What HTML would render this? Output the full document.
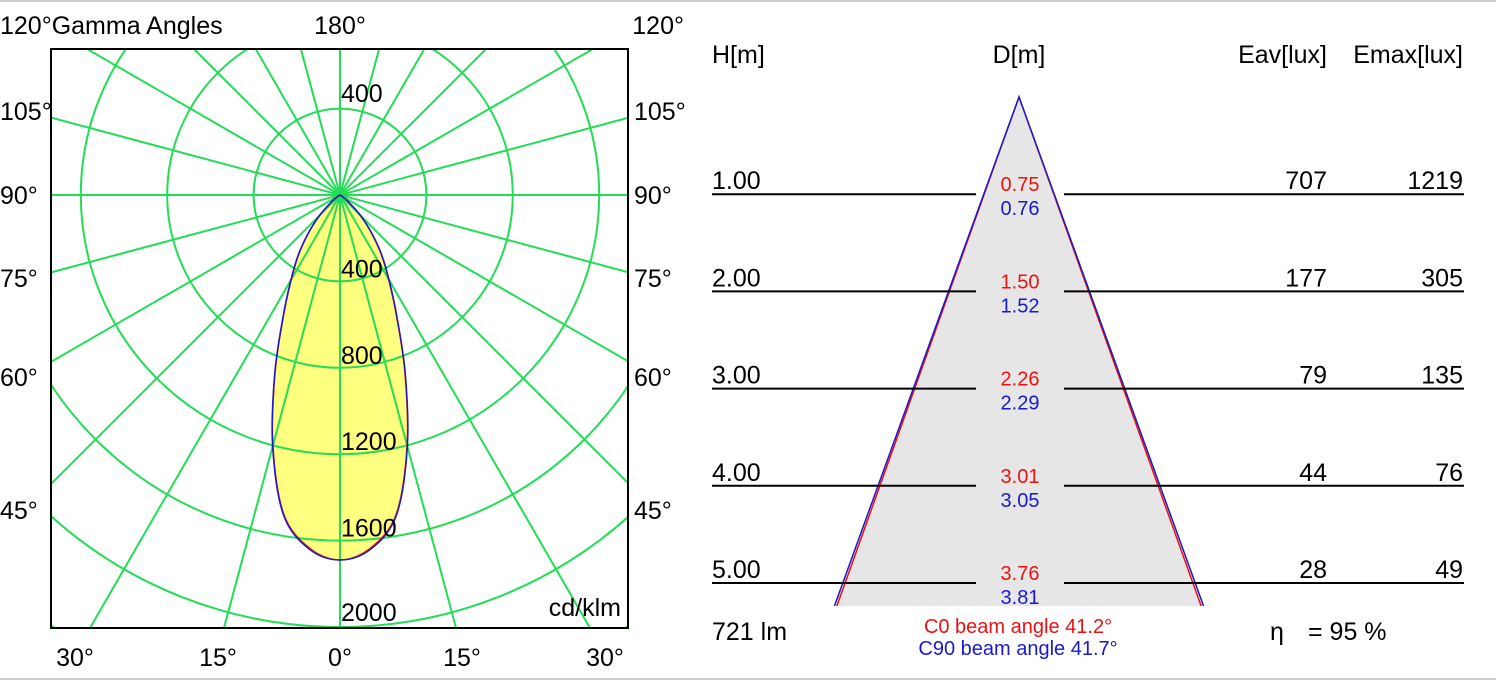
<!DOCTYPE html>
<html><head><meta charset="utf-8"><style>
html,body{margin:0;padding:0;background:#fff;overflow:hidden;width:1496px;height:680px;}
svg{display:block;font-family:"Liberation Sans",sans-serif;}
</style></head><body>
<svg width="1496" height="680" viewBox="0 0 1496 680" xmlns="http://www.w3.org/2000/svg">
<line x1="0" y1="1" x2="1496" y2="1" stroke="#ccc" stroke-width="2"/>
<line x1="0" y1="679" x2="1496" y2="679" stroke="#ccc" stroke-width="2"/>
<g id="polar"></g>
<g id="cone"></g>
</svg>
<script>
const gammaAngles=[0,5,10,15,20,25,30,35,40,45,50,55,60];
const intensityC0=[1690,1640,1500,1200,880,620,450,330,220,130,60,20,0];
const intensityC90=[1690,1645,1505,1205,885,625,455,335,225,135,62,22,0];
const ringValues=[400,800,1200,1600,2000];
const heights=[1.00,2.00,3.00,4.00,5.00];
const diamC0=[0.75,1.50,2.26,3.01,3.76];
const diamC90=[0.76,1.52,2.29,3.05,3.81];
const eav=[707,177,79,44,28];
const emax=[1219,305,135,76,49];
const beamC0=41.2, beamC90=41.7;

const NS="http://www.w3.org/2000/svg";
function mk(tag,attrs,parent,text){const e=document.createElementNS(NS,tag);for(const k in attrs)e.setAttribute(k,attrs[k]);if(text!==undefined)e.textContent=text;parent.appendChild(e);return e;}
const FS=25, SFS=20;
const P=document.getElementById('polar');
const cx=340,cy=195,k=432/2000;
const X0=51,X1=628,Y0=49,Y1=628;
const rad=v=>v*k;
const clip=mk('clipPath',{id:'pc'},P);mk('rect',{x:X0,y:Y0,width:X1-X0,height:Y1-Y0},clip);
function drawGrid(){const grid=mk('g',{'clip-path':'url(#pc)'},P);


ringValues.concat([2400]).forEach(v=>{const c=mk('circle',{cx:cx,cy:cy,r:rad(v),fill:'none',stroke:'#22dd55','stroke-width':2},grid);

});
for(let a=0;a<180;a+=15){const t=a*Math.PI/180;const L=900;
const l=mk('line',{x1:cx-L*Math.sin(t),y1:cy+L*Math.cos(t),x2:cx+L*Math.sin(t),y2:cy-L*Math.cos(t),stroke:'#22dd55','stroke-width':2},grid);

}}
function curve(vals){let pts=[];for(let i=gammaAngles.length-1;i>=0;i--){const t=gammaAngles[i]*Math.PI/180;pts.push([cx-rad(vals[i])*Math.sin(t),cy+rad(vals[i])*Math.cos(t)]);}
for(let i=1;i<gammaAngles.length;i++){const t=gammaAngles[i]*Math.PI/180;pts.push([cx+rad(vals[i])*Math.sin(t),cy+rad(vals[i])*Math.cos(t)]);}
let d='M'+pts[0][0]+','+pts[0][1];
for(let i=0;i<pts.length-1;i++){const p0=pts[Math.max(i-1,0)],p1=pts[i],p2=pts[i+1],p3=pts[Math.min(i+2,pts.length-1)];
d+=` C${p1[0]+(p2[0]-p0[0])/6},${p1[1]+(p2[1]-p0[1])/6} ${p2[0]-(p3[0]-p1[0])/6},${p2[1]-(p3[1]-p1[1])/6} ${p2[0]},${p2[1]}`;}
return d+'Z';}
const fillP=mk('path',{d:curve(intensityC0),fill:'#ffff80',stroke:'none'},P);


drawGrid();
const c0=mk('path',{d:curve(intensityC0),fill:'none',stroke:'#ee1111','stroke-width':1.5},P);


const c90=mk('path',{d:curve(intensityC90),fill:'none',stroke:'#1a1acc','stroke-width':1.5},P);


const box=mk('rect',{x:X0,y:Y0,width:X1-X0,height:Y1-Y0,fill:'none',stroke:'#000','stroke-width':2},P);


function txt(par,x,y,s,opt){const o=Object.assign({x:x,y:y,'font-size':FS,fill:'#000'},opt||{});return mk('text',o,par,s);}
let t;
t=txt(P,341,102,'400');
ringValues.forEach(v=>{const t=txt(P,341,cy+rad(v)-4+(v===2000?-2:0),String(v));

});
t=txt(P,621,616,'cd/klm',{'text-anchor':'end'});
t=txt(P,0,34,'120°Gamma Angles');
t=txt(P,340,34,'180°',{'text-anchor':'middle'});
t=txt(P,684,34,'120°',{'text-anchor':'end'});
const sideLabels=[[105,120],[90,204],[75,287],[60,386],[45,519]];
sideLabels.forEach(([a,y])=>{let l=txt(P,0,y,a+'°');
let r=txt(P,634,y,a+'°');});
[[75,'30°'],[218,'15°'],[340,'0°'],[462,'15°'],[605,'30°']].forEach(([x,s],i)=>{const l=txt(P,x,666,s,{'text-anchor':'middle'});
});

const C=document.getElementById('cone');
const ax=1019,ay=97,vy=97.2,hx=92.5;
const yH=h=>ay+h*vy;
const botY=606,hb=(botY-ay)/vy;
const s0=diamC0[4]/heights[4]/2*hx, s90=diamC90[4]/heights[4]/2*hx;
const fillC=mk('polygon',{points:`${ax},${ay} ${ax-s90*hb},${botY} ${ax+s90*hb},${botY}`,fill:'#e6e6e6'},C);


const lr=mk('polyline',{points:`${ax-s0*hb},${botY} ${ax},${ay} ${ax+s0*hb},${botY}`,fill:'none',stroke:'#ee1111','stroke-width':1.5},C);


const lb=mk('polyline',{points:`${ax-s90*hb},${botY} ${ax},${ay} ${ax+s90*hb},${botY}`,fill:'none',stroke:'#1a1acc','stroke-width':1.5},C);


[[712,'H[m]','start'],[1019,'D[m]','middle'],[1327,'Eav[lux]','end'],[1463,'Emax[lux]','end']].forEach(([x,s,a],i)=>{const h=txt(C,x,63,s,{'text-anchor':a});
});
heights.forEach((h,i)=>{const y=yH(h);
const l1=mk('line',{x1:712,y1:y,x2:976,y2:y,stroke:'#000','stroke-width':2},C);

const l2=mk('line',{x1:1064,y1:y,x2:1464,y2:y,stroke:'#000','stroke-width':2},C);

let e=txt(C,712,y-5,h.toFixed(2));
e=txt(C,1327,y-5,String(eav[i]),{'text-anchor':'end'});
e=txt(C,1463,y-5,String(emax[i]),{'text-anchor':'end'});
e=txt(C,1020,y-3,diamC0[i].toFixed(2),{'text-anchor':'middle','font-size':SFS,fill:'#ee1111'});
e=txt(C,1020,y+21,diamC90[i].toFixed(2),{'text-anchor':'middle','font-size':SFS,fill:'#1a1acc'});});
t=txt(C,712,640,'721 lm');
t=txt(C,1018,633,'C0  beam angle '+beamC0.toFixed(1)+'°',{'text-anchor':'middle','font-size':SFS,fill:'#ee1111'});
t=txt(C,1018,655,'C90 beam angle '+beamC90.toFixed(1)+'°',{'text-anchor':'middle','font-size':SFS,fill:'#1a1acc'});
t=txt(C,1270,640,'η');
t=txt(C,1308,640,'= 95 %');
</script>
</body></html>
